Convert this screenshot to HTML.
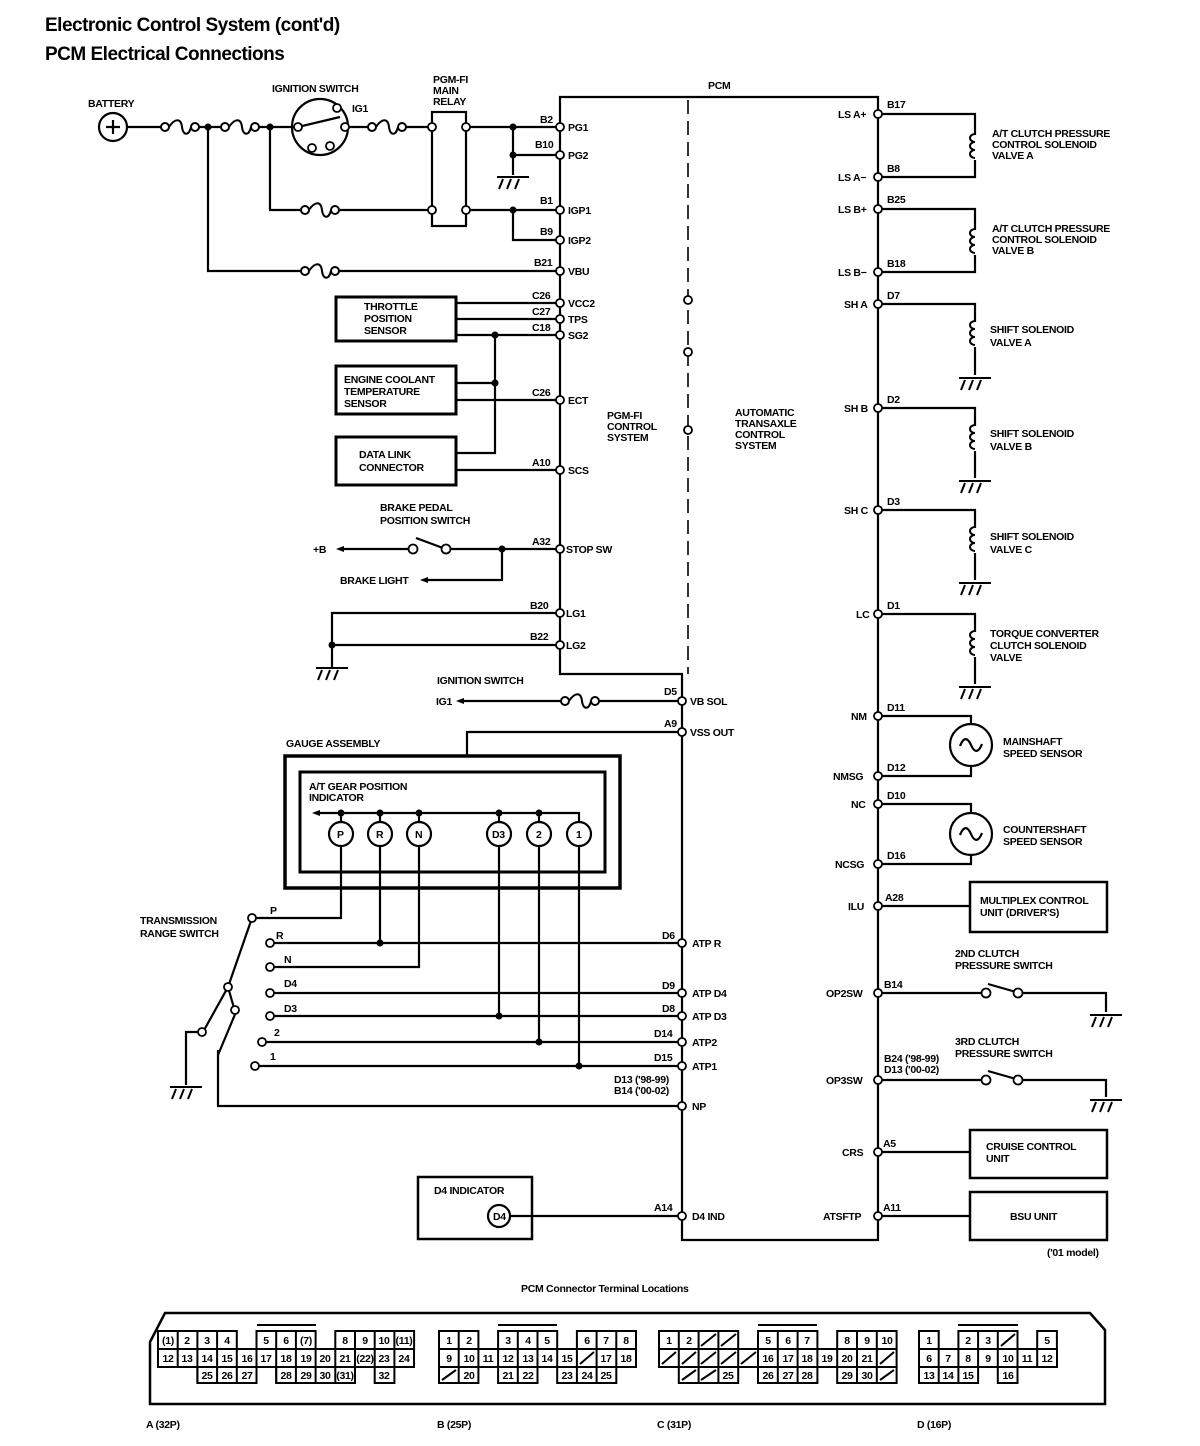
<!DOCTYPE html>
<html><head><meta charset="utf-8"><style>
html,body{margin:0;padding:0;background:#fff}
svg{display:block}
text{font-family:"Liberation Sans",sans-serif;font-size:10.5px;font-weight:bold;fill:#000;letter-spacing:-0.3px}
.t{font-size:19px;letter-spacing:-0.5px}
</style></head><body>
<svg width="1200" height="1446" viewBox="0 0 1200 1446" xmlns="http://www.w3.org/2000/svg">
<defs>
<g id="fuse" fill="none" stroke="#000" stroke-width="2"><circle cx="0" cy="0" r="4" fill="#fff"/><path d="M4,0 C10,-9 16,-9 17,0 S24,9 26,0"/><circle cx="30" cy="0" r="4" fill="#fff"/></g>
<g id="gnd" stroke="#000" stroke-width="2"><line x1="-16" y1="0" x2="16" y2="0"/><line x1="-10" y1="2" x2="-14" y2="12"/><line x1="-2" y1="2" x2="-6" y2="12"/><line x1="6" y1="2" x2="2" y2="12"/></g>
<g id="coil" fill="none" stroke="#000" stroke-width="2"><path d="M0,-14 a5,4 0 0 0 0,8 a5,4 0 0 0 0,8 a5,4 0 0 0 0,8"/></g>
<circle id="tp" r="4" fill="#fff" stroke="#000" stroke-width="1.8"/>
<circle id="nd" r="3.5" fill="#000"/>
</defs>
<text x="45" y="31" class="t">Electronic Control System (cont'd)</text>
<text x="45" y="60" class="t">PCM Electrical Connections</text>

<g stroke="#000" stroke-width="2.2" fill="none">
<!-- PCM outline -->
<path d="M560,97 H878 V1240 H682 V674 H560 Z"/>
<path d="M688,100 V674" stroke-dasharray="14,7" stroke-width="1.6"/>
<!-- top power -->
<line x1="127" y1="127" x2="165" y2="127"/>
<line x1="195" y1="127" x2="225" y2="127"/>
<line x1="255" y1="127" x2="298" y2="127"/>
<line x1="345" y1="127" x2="372" y2="127"/>
<line x1="402" y1="127" x2="432" y2="127"/>
<line x1="466" y1="127" x2="560" y2="127"/>
<path d="M513,127 V155 H560"/>
<line x1="513" y1="155" x2="513" y2="175"/>
<path d="M270,127 V210 H305"/><line x1="335" y1="210" x2="432" y2="210"/>
<line x1="466" y1="210" x2="560" y2="210"/>
<path d="M513,210 V240 H560"/>
<path d="M208,127 V271 H305"/><line x1="335" y1="271" x2="560" y2="271"/>
<rect x="432" y="112" width="34" height="114"/>
<circle cx="113" cy="127" r="14"/>
<path d="M106,127 H120 M113,120 V134"/>
<circle cx="320" cy="127" r="28"/>
<line x1="298" y1="127" x2="340" y2="117"/>
<!-- sensors -->
<rect x="336" y="297" width="120" height="44" stroke-width="3"/>
<rect x="336" y="366" width="120" height="48" stroke-width="3"/>
<rect x="336" y="437" width="120" height="48" stroke-width="3"/>
<line x1="456" y1="303" x2="560" y2="303"/>
<line x1="456" y1="319" x2="560" y2="319"/>
<line x1="456" y1="335" x2="560" y2="335"/>
<path d="M495,335 V453 H456"/>
<line x1="456" y1="383" x2="495" y2="383"/>
<line x1="456" y1="400" x2="560" y2="400"/>
<line x1="456" y1="470" x2="560" y2="470"/>
<!-- brake -->
<line x1="342" y1="549" x2="410" y2="549"/>
<line x1="416" y1="538" x2="443" y2="548"/>
<line x1="448" y1="549" x2="560" y2="549"/>
<path d="M502,549 V580 H426"/>
<!-- LG -->
<path d="M560,613 H332 V668"/>
<line x1="332" y1="645" x2="560" y2="645"/>
<!-- VB SOL -->
<line x1="462" y1="701" x2="565" y2="701"/>
<line x1="595" y1="701" x2="682" y2="701"/>
<path d="M682,732 H467 V755"/>
<!-- gauge -->
<rect x="285" y="756" width="335" height="132" stroke-width="3.5"/>
<rect x="300" y="772" width="305" height="100" stroke-width="3"/>
<path d="M318,813 H579 V822"/>
<line x1="341" y1="813" x2="341" y2="822"/><line x1="380" y1="813" x2="380" y2="822"/><line x1="419" y1="813" x2="419" y2="822"/><line x1="499" y1="813" x2="499" y2="822"/><line x1="539" y1="813" x2="539" y2="822"/>
<circle cx="341" cy="834" r="12"/><circle cx="380" cy="834" r="12"/><circle cx="419" cy="834" r="12"/><circle cx="499" cy="834" r="12"/><circle cx="539" cy="834" r="12"/><circle cx="579" cy="834" r="12"/>
<path d="M341,846 V918 H256"/>
<path d="M380,846 V943"/><line x1="270" y1="943" x2="682" y2="943"/>
<path d="M419,846 V967 H270"/>
<line x1="270" y1="993" x2="682" y2="993"/>
<line x1="270" y1="1016" x2="682" y2="1016"/>
<line x1="262" y1="1042" x2="682" y2="1042"/>
<line x1="255" y1="1066" x2="682" y2="1066"/>
<path d="M499,846 V1016"/><path d="M539,846 V1042"/><path d="M579,846 V1066"/>
<path d="M218,1050 V1106 H682"/>
<path d="M252,918 L228,987 L203,1032"/>
<path d="M228,987 L234,1008"/>
<path d="M236,1012 L218,1055"/>
<path d="M199,1032 H186 V1085"/>
<!-- D4 indicator -->
<rect x="418" y="1177" width="114" height="62" stroke-width="2.5"/>
<line x1="510" y1="1216" x2="682" y2="1216"/>
<circle cx="499" cy="1216" r="11"/>
<!-- right side -->
<path d="M878,114 H975 V135 M975,160 V177 H878"/>
<path d="M878,209 H975 V230 M975,255 V272 H878"/>
<path d="M878,304 H975 V322 M975,347 V375"/>
<path d="M878,408 H975 V426 M975,451 V478"/>
<path d="M878,510 H975 V528 M975,553 V580"/>
<path d="M878,614 H975 V632 M975,657 V684"/>
<path d="M878,716 H971 V724 M971,766 V776 H878"/>
<path d="M878,804 H971 V813 M971,855 V864 H878"/>
<circle cx="971" cy="745" r="21"/>
<circle cx="971" cy="834" r="21"/>
<path d="M960,746 C964,736 968,738 971,745 S978,754 982,744"/>
<path d="M960,835 C964,825 968,827 971,834 S978,843 982,833"/>
<line x1="878" y1="906" x2="970" y2="906"/>
<rect x="970" y="882" width="137" height="50" stroke-width="2.5"/>
<line x1="878" y1="993" x2="983" y2="993"/><line x1="988" y1="984" x2="1016" y2="992"/><path d="M1022,993 H1106 V1012"/>
<line x1="878" y1="1080" x2="983" y2="1080"/><line x1="988" y1="1071" x2="1016" y2="1079"/><path d="M1022,1080 H1106 V1097"/>
<line x1="878" y1="1152" x2="970" y2="1152"/>
<rect x="970" y="1130" width="137" height="48" stroke-width="2.5"/>
<line x1="878" y1="1216" x2="970" y2="1216"/>
<rect x="970" y="1192" width="137" height="48" stroke-width="2.5"/>
</g>
<g fill="#fff" stroke="#000" stroke-width="1.8">
<circle cx="986" cy="993" r="4.5"/><circle cx="1018" cy="993" r="4.5"/>
<circle cx="986" cy="1080" r="4.5"/><circle cx="1018" cy="1080" r="4.5"/>
<circle cx="413" cy="549" r="4.5"/><circle cx="446" cy="549" r="4.5"/>
<circle cx="298" cy="127" r="4"/><circle cx="345" cy="127" r="4"/><circle cx="312" cy="148" r="4"/><circle cx="330" cy="146" r="4"/><circle cx="337" cy="108" r="4"/>
<circle cx="432" cy="127" r="4"/><circle cx="466" cy="127" r="4"/><circle cx="432" cy="210" r="4"/><circle cx="466" cy="210" r="4"/>
<circle cx="252" cy="918" r="4"/><circle cx="270" cy="943" r="4"/><circle cx="270" cy="967" r="4"/><circle cx="270" cy="993" r="4"/><circle cx="270" cy="1016" r="4"/><circle cx="262" cy="1042" r="4"/><circle cx="255" cy="1066" r="4"/>
<circle cx="228" cy="987" r="4"/><circle cx="202" cy="1032" r="4"/><circle cx="235" cy="1010" r="4"/>
<circle cx="688" cy="300" r="4"/><circle cx="688" cy="352" r="4"/><circle cx="688" cy="430" r="4"/>
</g>
<use href="#fuse" x="165" y="127"/><use href="#fuse" x="225" y="127"/><use href="#fuse" x="372" y="127"/>
<use href="#fuse" x="305" y="210"/><use href="#fuse" x="305" y="271"/><use href="#fuse" x="565" y="701"/>
<use href="#gnd" x="513" y="177"/><use href="#gnd" x="332" y="668"/><use href="#gnd" x="186" y="1087"/>
<use href="#gnd" x="975" y="378"/><use href="#gnd" x="975" y="481"/><use href="#gnd" x="975" y="583"/><use href="#gnd" x="975" y="687"/>
<use href="#gnd" x="1106" y="1015"/><use href="#gnd" x="1106" y="1100"/>
<use href="#coil" x="975" y="148"/><use href="#coil" x="975" y="243"/><use href="#coil" x="975" y="335"/><use href="#coil" x="975" y="439"/><use href="#coil" x="975" y="541"/><use href="#coil" x="975" y="645"/>
<g>
<use href="#nd" x="208" y="127"/><use href="#nd" x="270" y="127"/><use href="#nd" x="513" y="127"/><use href="#nd" x="513" y="155"/><use href="#nd" x="513" y="210"/>
<use href="#nd" x="495" y="335"/><use href="#nd" x="495" y="383"/><use href="#nd" x="502" y="549"/><use href="#nd" x="332" y="645"/>
<use href="#nd" x="341" y="813"/><use href="#nd" x="380" y="813"/><use href="#nd" x="419" y="813"/><use href="#nd" x="499" y="813"/><use href="#nd" x="539" y="813"/>
<use href="#nd" x="380" y="943"/><use href="#nd" x="499" y="1016"/><use href="#nd" x="539" y="1042"/><use href="#nd" x="579" y="1066"/>
</g>
<!-- terminals -->
<g>
<use href="#tp" x="560" y="127"/><use href="#tp" x="560" y="155"/><use href="#tp" x="560" y="210"/><use href="#tp" x="560" y="240"/><use href="#tp" x="560" y="271"/>
<use href="#tp" x="560" y="303"/><use href="#tp" x="560" y="319"/><use href="#tp" x="560" y="335"/><use href="#tp" x="560" y="400"/><use href="#tp" x="560" y="470"/><use href="#tp" x="560" y="549"/><use href="#tp" x="560" y="613"/><use href="#tp" x="560" y="645"/>
<use href="#tp" x="682" y="701"/><use href="#tp" x="682" y="732"/><use href="#tp" x="682" y="943"/><use href="#tp" x="682" y="993"/><use href="#tp" x="682" y="1016"/><use href="#tp" x="682" y="1042"/><use href="#tp" x="682" y="1066"/><use href="#tp" x="682" y="1106"/><use href="#tp" x="682" y="1216"/>
<use href="#tp" x="878" y="114"/><use href="#tp" x="878" y="177"/><use href="#tp" x="878" y="209"/><use href="#tp" x="878" y="272"/><use href="#tp" x="878" y="304"/><use href="#tp" x="878" y="408"/><use href="#tp" x="878" y="510"/><use href="#tp" x="878" y="614"/>
<use href="#tp" x="878" y="716"/><use href="#tp" x="878" y="776"/><use href="#tp" x="878" y="804"/><use href="#tp" x="878" y="864"/><use href="#tp" x="878" y="906"/><use href="#tp" x="878" y="993"/><use href="#tp" x="878" y="1080"/><use href="#tp" x="878" y="1152"/><use href="#tp" x="878" y="1216"/>
</g>
<!-- arrows -->
<g fill="#000"><path d="M336,549 l8,-3 v6 z"/><path d="M420,580 l8,-3 v6 z"/><path d="M456,701 l8,-3 v6 z"/><path d="M312,813 l8,-3 v6 z"/></g>
<!-- labels -->
<text x="88" y="107">BATTERY</text>
<text x="272" y="92">IGNITION SWITCH</text>
<text x="352" y="112">IG1</text>
<text x="433" y="83">PGM-FI</text><text x="433" y="94">MAIN</text><text x="433" y="105">RELAY</text>
<text x="708" y="89">PCM</text>
<text x="540" y="123">B2</text><text x="568" y="131">PG1</text>
<text x="535" y="148">B10</text><text x="568" y="159">PG2</text>
<text x="540" y="204">B1</text><text x="568" y="214">IGP1</text>
<text x="540" y="235">B9</text><text x="568" y="244">IGP2</text>
<text x="534" y="266">B21</text><text x="568" y="275">VBU</text>
<text x="532" y="299">C26</text><text x="568" y="307">VCC2</text>
<text x="532" y="315">C27</text><text x="568" y="323">TPS</text>
<text x="532" y="331">C18</text><text x="568" y="339">SG2</text>
<text x="532" y="396">C26</text><text x="568" y="404">ECT</text>
<text x="532" y="466">A10</text><text x="568" y="474">SCS</text>
<text x="532" y="545">A32</text><text x="566" y="553">STOP SW</text>
<text x="530" y="609">B20</text><text x="566" y="617">LG1</text>
<text x="530" y="640">B22</text><text x="566" y="649">LG2</text>
<text x="364" y="310">THROTTLE</text><text x="364" y="322">POSITION</text><text x="364" y="334">SENSOR</text>
<text x="344" y="383">ENGINE COOLANT</text><text x="344" y="395">TEMPERATURE</text><text x="344" y="407">SENSOR</text>
<text x="359" y="458">DATA LINK</text><text x="359" y="471">CONNECTOR</text>
<text x="380" y="511">BRAKE PEDAL</text><text x="380" y="524">POSITION SWITCH</text>
<text x="313" y="553">+B</text>
<text x="340" y="584">BRAKE LIGHT</text>
<text x="607" y="419">PGM-FI</text><text x="607" y="430">CONTROL</text><text x="607" y="441">SYSTEM</text>
<text x="735" y="416">AUTOMATIC</text><text x="735" y="427">TRANSAXLE</text><text x="735" y="438">CONTROL</text><text x="735" y="449">SYSTEM</text>
<text x="437" y="684">IGNITION SWITCH</text>
<text x="436" y="705">IG1</text>
<text x="664" y="695">D5</text><text x="690" y="705">VB SOL</text>
<text x="664" y="727">A9</text><text x="690" y="736">VSS OUT</text>
<text x="286" y="747">GAUGE ASSEMBLY</text>
<text x="309" y="790">A/T GEAR POSITION</text><text x="309" y="801">INDICATOR</text>
<text x="337" y="838" font-size="9">P</text><text x="376" y="838" font-size="9">R</text><text x="415" y="838" font-size="9">N</text><text x="492" y="838" font-size="9">D3</text><text x="536" y="838" font-size="9">2</text><text x="576" y="838" font-size="9">1</text>
<text x="140" y="924">TRANSMISSION</text><text x="140" y="937">RANGE SWITCH</text>
<text x="270" y="914">P</text><text x="276" y="939">R</text><text x="284" y="963">N</text><text x="284" y="987">D4</text><text x="284" y="1012">D3</text><text x="274" y="1036">2</text><text x="270" y="1060">1</text>
<text x="662" y="939">D6</text><text x="692" y="947">ATP R</text>
<text x="662" y="989">D9</text><text x="692" y="997">ATP D4</text>
<text x="662" y="1012">D8</text><text x="692" y="1020">ATP D3</text>
<text x="654" y="1037">D14</text><text x="692" y="1046">ATP2</text>
<text x="654" y="1061">D15</text><text x="692" y="1070">ATP1</text>
<text x="614" y="1083">D13 ('98-99)</text><text x="614" y="1094">B14 ('00-02)</text><text x="692" y="1110">NP</text>
<text x="434" y="1194">D4 INDICATOR</text><text x="493" y="1220" font-size="9">D4</text>
<text x="654" y="1211">A14</text><text x="692" y="1220">D4 IND</text>
<!-- right labels -->
<text x="838" y="118">LS A+</text><text x="887" y="108">B17</text>
<text x="838" y="181">LS A−</text><text x="887" y="172">B8</text>
<text x="838" y="213">LS B+</text><text x="887" y="203">B25</text>
<text x="838" y="276">LS B−</text><text x="887" y="267">B18</text>
<text x="844" y="308">SH A</text><text x="887" y="299">D7</text>
<text x="844" y="412">SH B</text><text x="887" y="403">D2</text>
<text x="844" y="514">SH C</text><text x="887" y="505">D3</text>
<text x="856" y="618">LC</text><text x="887" y="609">D1</text>
<text x="851" y="720">NM</text><text x="887" y="711">D11</text>
<text x="833" y="780">NMSG</text><text x="887" y="771">D12</text>
<text x="851" y="808">NC</text><text x="887" y="799">D10</text>
<text x="835" y="868">NCSG</text><text x="887" y="859">D16</text>
<text x="848" y="910">ILU</text><text x="885" y="901">A28</text>
<text x="826" y="997">OP2SW</text><text x="884" y="988">B14</text>
<text x="826" y="1084">OP3SW</text><text x="884" y="1062">B24 ('98-99)</text><text x="884" y="1073">D13 ('00-02)</text>
<text x="842" y="1156">CRS</text><text x="883" y="1147">A5</text>
<text x="823" y="1220">ATSFTP</text><text x="883" y="1211">A11</text>
<text x="992" y="137">A/T CLUTCH PRESSURE</text><text x="992" y="148">CONTROL SOLENOID</text><text x="992" y="159">VALVE A</text>
<text x="992" y="232">A/T CLUTCH PRESSURE</text><text x="992" y="243">CONTROL SOLENOID</text><text x="992" y="254">VALVE B</text>
<text x="990" y="333">SHIFT SOLENOID</text><text x="990" y="346">VALVE A</text>
<text x="990" y="437">SHIFT SOLENOID</text><text x="990" y="450">VALVE B</text>
<text x="990" y="540">SHIFT SOLENOID</text><text x="990" y="553">VALVE C</text>
<text x="990" y="637">TORQUE CONVERTER</text><text x="990" y="649">CLUTCH SOLENOID</text><text x="990" y="661">VALVE</text>
<text x="1003" y="745">MAINSHAFT</text><text x="1003" y="757">SPEED SENSOR</text>
<text x="1003" y="833">COUNTERSHAFT</text><text x="1003" y="845">SPEED SENSOR</text>
<text x="980" y="904">MULTIPLEX CONTROL</text><text x="980" y="916">UNIT (DRIVER'S)</text>
<text x="955" y="957">2ND CLUTCH</text><text x="955" y="969">PRESSURE SWITCH</text>
<text x="955" y="1045">3RD CLUTCH</text><text x="955" y="1057">PRESSURE SWITCH</text>
<text x="986" y="1150">CRUISE CONTROL</text><text x="986" y="1162">UNIT</text>
<text x="1010" y="1220">BSU UNIT</text>
<text x="1047" y="1256" font-size="9.5">('01 model)</text>
<!-- connectors -->
<text x="521" y="1292" font-size="9.5">PCM Connector Terminal Locations</text>
<path d="M150,1342 L165,1313 H1090 L1105,1330 V1404 H150 Z" fill="none" stroke="#000" stroke-width="2.5"/>
<g fill="none" stroke="#000" stroke-width="2">
<line x1="257" y1="1325" x2="316" y2="1325"/><line x1="498" y1="1325" x2="557" y2="1325"/><line x1="758" y1="1325" x2="817" y2="1325"/><line x1="958" y1="1325" x2="1018" y2="1325"/>
</g>
<g font-size="9.5" text-anchor="middle">
<g fill="none" stroke="#000" stroke-width="2">
<!-- A row1 -->
<rect x="158" y="1331" width="78.8" height="18"/><rect x="256.5" y="1331" width="59.1" height="18"/><rect x="335.3" y="1331" width="78.8" height="18"/>
<rect x="158" y="1349" width="256" height="18"/>
<rect x="197.4" y="1367" width="59.1" height="16"/><rect x="276.2" y="1367" width="78.8" height="16"/><rect x="374.7" y="1367" width="19.7" height="16"/>
<path d="M177.7,1331V1367M197.4,1331V1383M217.1,1331V1383M236.8,1349V1383M256.5,1349V1367M276.2,1331V1383M295.9,1331V1383M315.6,1349V1383M335.3,1349V1383M355,1331V1367M374.7,1331V1367M394.4,1331V1367"/>
<!-- B -->
<rect x="439" y="1331" width="39.4" height="18"/><rect x="498.1" y="1331" width="59.1" height="18"/><rect x="576.9" y="1331" width="59.1" height="18"/>
<rect x="439" y="1349" width="197" height="18"/>
<rect x="439" y="1367" width="39.4" height="16"/><rect x="498.1" y="1367" width="39.4" height="16"/><rect x="557.2" y="1367" width="59.1" height="16"/>
<path d="M458.7,1331V1383M478.4,1349V1367M498.1,1349V1367M517.8,1331V1383M537.5,1331V1367M557.2,1349V1367M576.9,1349V1383M596.6,1331V1383M616.3,1331V1367"/>
<path d="M442,1380L456,1370M580,1364L594,1352"/>
<!-- C -->
<rect x="659" y="1331" width="79.2" height="18"/><rect x="758" y="1331" width="59.4" height="18"/><rect x="837.2" y="1331" width="59.4" height="18"/>
<rect x="659" y="1349" width="237.6" height="18"/>
<rect x="678.8" y="1367" width="59.4" height="16"/><rect x="758" y="1367" width="59.4" height="16"/><rect x="837.2" y="1367" width="59.4" height="16"/>
<path d="M678.8,1331V1367M698.6,1331V1383M718.4,1331V1383M738.2,1349V1367M758,1349V1367M777.8,1331V1383M797.6,1331V1383M817.4,1349V1367M837.2,1349V1367M857,1331V1383M876.8,1331V1383"/>
<path d="M701,1346L716,1334M721,1346L736,1334M662,1364L676,1352M682,1364L696,1352M701,1364L716,1352M721,1364L736,1352M741,1364L756,1352M880,1364L894,1352M682,1380L696,1370M701,1380L716,1370M880,1380L894,1370"/>
<!-- D -->
<rect x="919" y="1331" width="19.7" height="18"/><rect x="958.4" y="1331" width="59.1" height="18"/><rect x="1037.2" y="1331" width="19.7" height="18"/>
<rect x="919" y="1349" width="138" height="18"/>
<rect x="919" y="1367" width="59.1" height="16"/><rect x="997.8" y="1367" width="19.7" height="16"/>
<path d="M938.7,1349V1383M958.4,1349V1383M978.1,1331V1367M997.8,1331V1367M1017.5,1349V1367M1037.2,1349V1367"/>
<path d="M1001,1346L1015,1334"/>
</g>
<text x="168" y="1344">(1)</text><text x="187" y="1344">2</text><text x="207" y="1344">3</text><text x="227" y="1344">4</text><text x="266" y="1344">5</text><text x="286" y="1344">6</text><text x="306" y="1344">(7)</text><text x="345" y="1344">8</text><text x="365" y="1344">9</text><text x="384" y="1344">10</text><text x="404" y="1344">(11)</text>
<text x="168" y="1362">12</text><text x="187" y="1362">13</text><text x="207" y="1362">14</text><text x="227" y="1362">15</text><text x="247" y="1362">16</text><text x="266" y="1362">17</text><text x="286" y="1362">18</text><text x="306" y="1362">19</text><text x="325" y="1362">20</text><text x="345" y="1362">21</text><text x="365" y="1362">(22)</text><text x="384" y="1362">23</text><text x="404" y="1362">24</text>
<text x="207" y="1379">25</text><text x="227" y="1379">26</text><text x="247" y="1379">27</text><text x="286" y="1379">28</text><text x="306" y="1379">29</text><text x="325" y="1379">30</text><text x="345" y="1379">(31)</text><text x="384" y="1379">32</text>
<text x="449" y="1344">1</text><text x="469" y="1344">2</text><text x="508" y="1344">3</text><text x="528" y="1344">4</text><text x="547" y="1344">5</text><text x="587" y="1344">6</text><text x="606" y="1344">7</text><text x="626" y="1344">8</text>
<text x="449" y="1362">9</text><text x="469" y="1362">10</text><text x="488" y="1362">11</text><text x="508" y="1362">12</text><text x="528" y="1362">13</text><text x="547" y="1362">14</text><text x="567" y="1362">15</text><text x="606" y="1362">17</text><text x="626" y="1362">18</text>
<text x="469" y="1379">20</text><text x="508" y="1379">21</text><text x="528" y="1379">22</text><text x="567" y="1379">23</text><text x="587" y="1379">24</text><text x="606" y="1379">25</text>
<text x="669" y="1344">1</text><text x="689" y="1344">2</text><text x="768" y="1344">5</text><text x="788" y="1344">6</text><text x="807" y="1344">7</text><text x="847" y="1344">8</text><text x="867" y="1344">9</text><text x="887" y="1344">10</text>
<text x="768" y="1362">16</text><text x="788" y="1362">17</text><text x="807" y="1362">18</text><text x="827" y="1362">19</text><text x="847" y="1362">20</text><text x="867" y="1362">21</text>
<text x="728" y="1379">25</text><text x="768" y="1379">26</text><text x="788" y="1379">27</text><text x="807" y="1379">28</text><text x="847" y="1379">29</text><text x="867" y="1379">30</text>
<text x="929" y="1344">1</text><text x="968" y="1344">2</text><text x="988" y="1344">3</text><text x="1047" y="1344">5</text>
<text x="929" y="1362">6</text><text x="948" y="1362">7</text><text x="968" y="1362">8</text><text x="988" y="1362">9</text><text x="1008" y="1362">10</text><text x="1027" y="1362">11</text><text x="1047" y="1362">12</text>
<text x="929" y="1379">13</text><text x="948" y="1379">14</text><text x="968" y="1379">15</text><text x="1008" y="1379">16</text>
</g>
<text x="146" y="1428">A (32P)</text><text x="437" y="1428">B (25P)</text><text x="657" y="1428">C (31P)</text><text x="917" y="1428">D (16P)</text>
</svg>
</body></html>
